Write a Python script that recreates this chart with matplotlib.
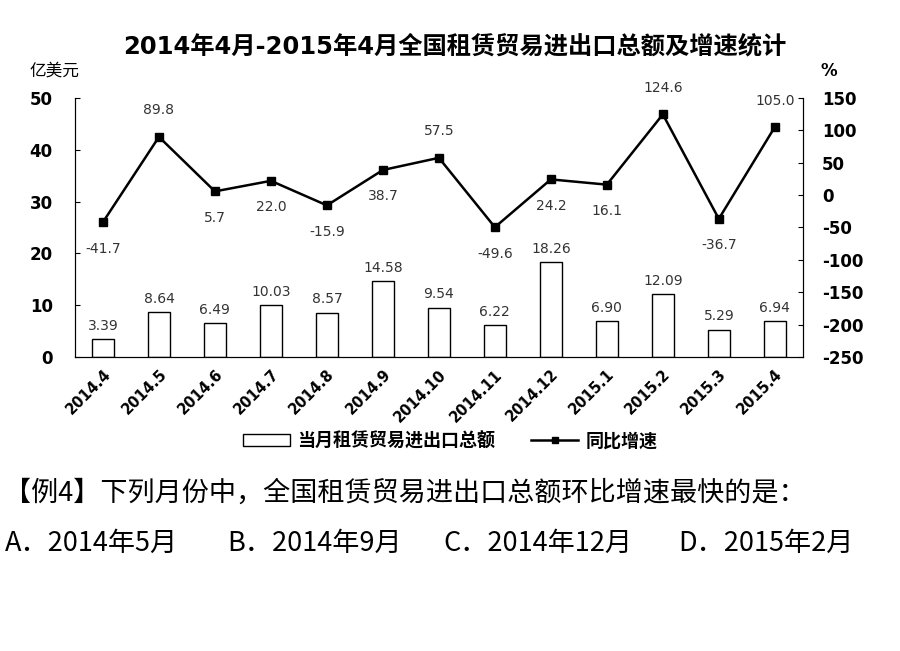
import numpy as np
import matplotlib.pyplot as plt
from matplotlib.patches import Patch
from matplotlib.lines import Line2D

# 图里数字用 DejaVu（较宽，接近原图），汉字回退到 Noto CJK
chart_font = ['DejaVu Sans', 'Noto Sans CJK SC']
cjk_font = ['Noto Sans CJK SC', 'DejaVu Sans']
plt.rcParams['font.family'] = chart_font
plt.rcParams['axes.unicode_minus'] = False

months = ['2014.4', '2014.5', '2014.6', '2014.7', '2014.8', '2014.9', '2014.10',
          '2014.11', '2014.12', '2015.1', '2015.2', '2015.3', '2015.4']
amount = [3.39, 8.64, 6.49, 10.03, 8.57, 14.58, 9.54, 6.22, 18.26, 6.90, 12.09, 5.29, 6.94]
growth = [-41.7, 89.8, 5.7, 22.0, -15.9, 38.7, 57.5, -49.6, 24.2, 16.1, 124.6, -36.7, 105.0]
# 增速标签在点的上方(True)或下方(False)
label_above = [False, True, False, False, False, False, True, False, False, False, True, False, True]
options = ['A．2014年5月', 'B．2014年9月', 'C．2014年12月', 'D．2015年2月']

fig = plt.figure(figsize=(9, 6.51), dpi=100)
ax = fig.add_axes([0.0833, 0.4516, 0.8087, 0.398])
x = np.arange(len(months))

ax.bar(x, amount, width=0.4, color='white', edgecolor='black', linewidth=1)
for xi, v in zip(x, amount):
    ax.text(xi, v + 1.2, f'{v:.2f}', ha='center', va='bottom', fontsize=10, color='#333333')

ax.set_xlim(-0.5, 12.5)
ax.set_ylim(0, 50)
ax.set_yticks(range(0, 51, 10))
ax.set_xticks(x)
ax.set_xticklabels(months, rotation=45, ha='right', rotation_mode='anchor',
                   fontweight='bold', fontsize=10.5)
ax.tick_params(axis='y', direction='in', labelsize=12, pad=16)
ax.tick_params(axis='x', length=0, pad=7)
for lab in ax.get_yticklabels():
    lab.set_fontweight('bold')
ax.spines['top'].set_visible(False)

ax2 = ax.twinx()
ax2.plot(x, growth, color='black', linewidth=1.8, marker='s', markersize=6)
ax2.set_ylim(-250, 150)
ax2.set_yticks(range(-250, 151, 50))
ax2.tick_params(axis='y', direction='in', labelsize=12, pad=14)
for lab in ax2.get_yticklabels():
    lab.set_fontweight('bold')
ax2.spines['top'].set_visible(False)
for xi, g, up in zip(x, growth, label_above):
    off = 14 if up else -14
    ax2.annotate(f'{g:.1f}', (xi, g), xytext=(0, off), textcoords='offset points',
                 ha='center', va='bottom' if up else 'top', fontsize=10, color='#333333')

fig.text(0.505, 0.928, '2014年4月-2015年4月全国租赁贸易进出口总额及增速统计',
         ha='center', va='center', fontsize=17.5, fontweight='bold')
fig.text(0.033, 0.891, '亿美元', ha='left', va='center', fontsize=12)
fig.text(0.912, 0.891, '%', ha='left', va='center', fontsize=12, fontweight='bold')

handles = [Patch(facecolor='white', edgecolor='black', linewidth=1),
           Line2D([0], [0], color='black', linewidth=1.8, marker='s', markersize=4)]
fig.legend(handles, ['当月租赁贸易进出口总额', '同比增速'], loc='center',
           bbox_to_anchor=(0.5, 0.323), ncol=2, frameon=False,
           prop={'family': cjk_font, 'size': 13, 'weight': 'bold'},
           handlelength=2.6, columnspacing=2.0, handletextpad=0.4)

fig.text(0.005, 0.243, '【例4】下列月份中，全国租赁贸易进出口总额环比增速最快的是：',
         ha='left', va='center', fontsize=19.5, family=cjk_font)
for xpos, opt in zip([0.005, 0.252, 0.493, 0.754], options):
    fig.text(xpos, 0.166, opt, ha='left', va='center', fontsize=19.5, family=cjk_font)

fig.savefig('out.png', dpi=100)
